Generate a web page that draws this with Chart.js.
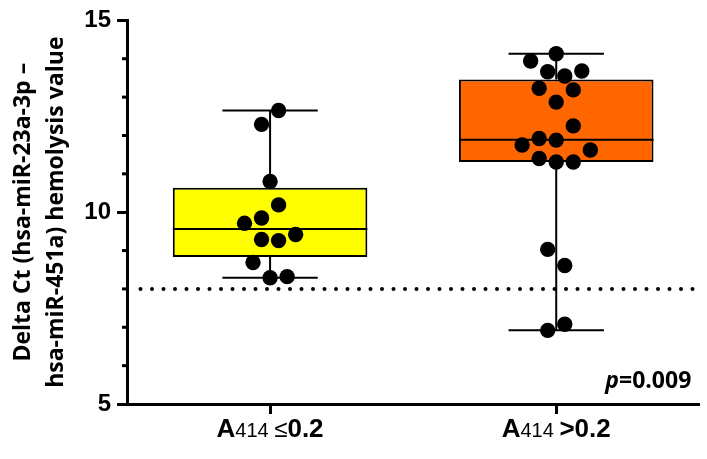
<!DOCTYPE html>
<html>
<head>
<meta charset="utf-8">
<script src="https://cdn.jsdelivr.net/npm/chart.js@4/dist/chart.umd.min.js"></script>
<style>
html, body { margin: 0; padding: 0; background: #fff; }
#wrap { width: 707px; height: 459px; position: relative; }
</style>
</head>
<body>
<div id="wrap"><canvas id="c"></canvas></div>
<script>
// ---- data ----
const categories = ['A414 ≤0.2', 'A414 >0.2'];
const labelPrefix = ['A', 'A'];
const labelSub = ['414', '414'];
const labelRelation = ['≤', '>'];
const labelThreshold = ['0.2', '0.2'];

const group1Values = [12.65, 12.29, 10.80, 10.19, 9.85, 9.71, 9.42, 9.29, 9.26, 8.69, 8.29, 8.32];
const group1Jitter = [1, -1, 0, 1, -1, -3, 3, -1, 1, -2, 0, 2];
const group2Values = [14.13, 13.94, 13.66, 13.68, 13.55, 13.23, 13.19, 12.87, 12.25, 11.92, 11.88, 11.75, 11.62, 11.40, 11.31, 11.31, 9.03, 8.61, 7.08, 6.92];
const group2Jitter = [0, -3, -1, 3, 1, -2, 2, 0, 2, -2, 0, -4, 4, -2, 0, 2, -1, 1, 1, -1];

const boxMin = [8.29, 6.92];
const boxQ1 = [8.83, 11.31];
const boxMedian = [9.56, 11.89];
const boxQ3 = [10.64, 13.46];
const boxMax = [12.65, 14.13];
const boxColors = ['#FFFF00', '#FF6600'];

const cutoff = 8.0;
const pLabel = 'p';
const pValueText = '=0.009';

const yTicks = [5, 10, 15];
const yTitle = ['Delta Ct (hsa-miR-23a-3p –', 'hsa-miR-451a) hemolysis value'];

// ---- build ----
const JITTER_STEP = 0.0298;
const points = [];
group1Values.forEach((v, i) => points.push({ x: 0 + group1Jitter[i] * JITTER_STEP, y: v }));
group2Values.forEach((v, i) => points.push({ x: 1 + group2Jitter[i] * JITTER_STEP, y: v }));

const boxPlugin = {
  id: 'boxExtras',
  beforeDatasetsDraw(chart) {
    const { ctx, chartArea, scales } = chart;
    const y = scales.y.getPixelForValue(cutoff);
    ctx.save();
    ctx.strokeStyle = '#000';
    ctx.lineWidth = 4;
    ctx.lineCap = 'round';
    ctx.setLineDash([0, 11.5]);
    ctx.beginPath();
    ctx.moveTo(chartArea.left + 13.5, y);
    ctx.lineTo(chartArea.right, y);
    ctx.stroke();
    ctx.restore();
  },
  afterDatasetDraw(chart, args) {
    if (args.index !== 0) return;
    const { ctx, scales } = chart;
    const meta = chart.getDatasetMeta(0);
    ctx.save();
    ctx.strokeStyle = '#000';
    ctx.lineWidth = 2;
    meta.data.forEach((el, i) => {
      const x = el.x;
      const half = el.width / 2;
      const capHalf = el.width * 0.245;
      const yMin = scales.y.getPixelForValue(boxMin[i]);
      const yMax = scales.y.getPixelForValue(boxMax[i]);
      const yQ1 = scales.y.getPixelForValue(boxQ1[i]);
      const yQ3 = scales.y.getPixelForValue(boxQ3[i]);
      const yMed = scales.y.getPixelForValue(boxMedian[i]);
      ctx.beginPath();
      ctx.moveTo(x, yMax); ctx.lineTo(x, yQ3);
      ctx.moveTo(x, yQ1); ctx.lineTo(x, yMin);
      ctx.moveTo(x - capHalf, yMax); ctx.lineTo(x + capHalf, yMax);
      ctx.moveTo(x - capHalf, yMin); ctx.lineTo(x + capHalf, yMin);
      ctx.moveTo(x - half, yMed); ctx.lineTo(x + half, yMed);
      ctx.stroke();
    });
    ctx.restore();
  },
  afterDraw(chart) {
    const { ctx, chartArea, scales } = chart;
    ctx.save();
    ctx.strokeStyle = '#000';
    ctx.lineWidth = 3;
    // minor y ticks
    for (let v = scales.y.min + 1; v < scales.y.max; v++) {
      if (v % 5 === 0) continue;
      const yy = scales.y.getPixelForValue(v);
      ctx.beginPath();
      ctx.moveTo(chartArea.left - 5, yy);
      ctx.lineTo(chartArea.left, yy);
      ctx.stroke();
    }
    // x category labels (mixed fonts)
    ctx.fillStyle = '#000';
    ctx.textBaseline = 'alphabetic';
    ctx.textAlign = 'left';
    const fBold = 'bold 26px "Liberation Sans", Arial, sans-serif';
    const fReg = '20px "Liberation Sans", Arial, sans-serif';
    const fRel = '24px "Liberation Sans", Arial, sans-serif';
    categories.forEach((c, i) => {
      const parts = [
        [labelPrefix[i], fBold],
        [labelSub[i] + ' ', fReg],
        [labelRelation[i], labelRelation[i] === '>' ? fBold : fRel],
        [labelThreshold[i], fBold]
      ];
      let total = 0;
      parts.forEach(p => { ctx.font = p[1]; total += ctx.measureText(p[0]).width; });
      let x = scales.x.getPixelForValue(i) - total / 2;
      const yb = chartArea.bottom + 33;
      parts.forEach(p => { ctx.font = p[1]; ctx.fillText(p[0], x, yb); x += ctx.measureText(p[0]).width; });
    });
    // p value
    ctx.textAlign = 'left';
    const fP = 'italic bold 23px "Open Sans", sans-serif';
    const fV = 'bold 23px "Open Sans", sans-serif';
    ctx.font = fV;
    const wV = ctx.measureText(pValueText).width;
    ctx.font = fP;
    const wP = ctx.measureText(pLabel).width;
    const xr = chartArea.right - 8;
    const yb2 = chartArea.bottom - 16;
    ctx.fillText(pLabel, xr - wV - wP, yb2);
    ctx.font = fV;
    ctx.fillText(pValueText, xr - wV, yb2);
    ctx.restore();
  }
};

new Chart(document.getElementById('c'), {
  type: 'bar',
  data: {
    labels: categories,
    datasets: [
      {
        type: 'bar',
        data: boxQ1.map((q, i) => [q, boxQ3[i]]),
        backgroundColor: boxColors,
        borderColor: '#000',
        borderWidth: 2,
        borderSkipped: false,
        grouped: false,
        categoryPercentage: 1,
        barPercentage: 0.68,
        xAxisID: 'x',
        yAxisID: 'y',
        order: 2
      },
      {
        type: 'scatter',
        data: points,
        backgroundColor: '#000',
        borderWidth: 0,
        pointRadius: 7.7,
        xAxisID: 'xp',
        yAxisID: 'y',
        order: 1
      }
    ]
  },
  options: {
    responsive: true,
    maintainAspectRatio: false,
    animation: false,
    events: [],
    layout: { padding: { top: 19, left: 0, right: 0, bottom: 0 } },
    plugins: { legend: { display: false }, tooltip: { enabled: false } },
    scales: {
      x: {
        type: 'category',
        offset: true,
        grid: { offset: false, drawOnChartArea: false, drawTicks: true, tickLength: 10, tickWidth: 3, tickColor: '#000' },
        border: { display: true, color: '#000', width: 3 },
        ticks: { display: false },
        afterFit(s) { s.height = 55; }
      },
      xp: {
        type: 'linear',
        min: -0.5,
        max: 1.5,
        offset: false,
        grid: { offset: false },
        display: false
      },
      y: {
        type: 'linear',
        min: 5,
        max: 15,
        afterBuildTicks(s) { s.ticks = yTicks.map(v => ({ value: v })); },
        ticks: { color: '#000', padding: 6, font: { family: '"Liberation Sans", Arial, sans-serif', weight: 'bold', size: 24 } },
        grid: { drawOnChartArea: false, drawTicks: true, tickLength: 10, tickWidth: 3, tickColor: '#000' },
        border: { display: true, color: '#000', width: 3 },
        title: {
          display: true,
          text: yTitle,
          color: '#000',
          font: { family: '"Open Sans", sans-serif', weight: 'bold', size: 23, lineHeight: '33px' },
          padding: { top: 7, bottom: 0 }
        },
        afterFit(s) { s.width = 127; }
      }
    }
  },
  plugins: [boxPlugin]
});
</script>
</body>
</html>
